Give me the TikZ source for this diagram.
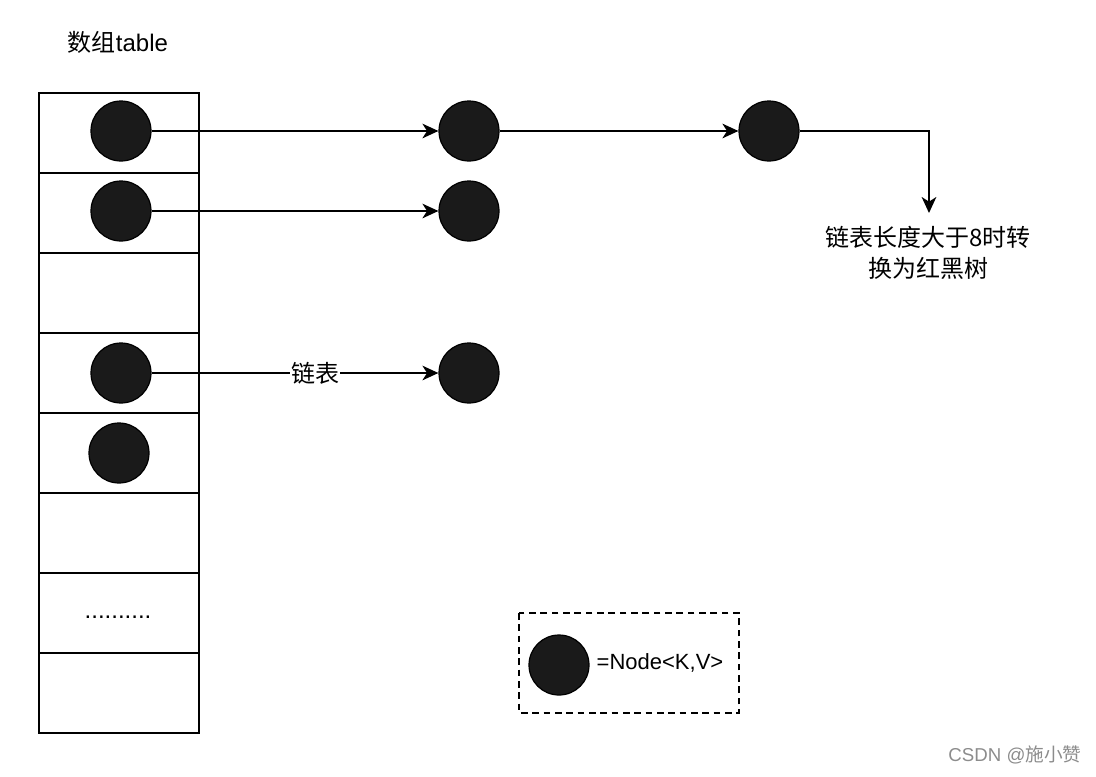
\documentclass[tikz,border=0pt]{standalone}
\usepackage{fontspec}
\setmainfont{Liberation Sans}
\newfontfamily\cjk{Noto Sans CJK SC}
\usetikzlibrary{positioning,arrows.meta}
\definecolor{nodefill}{HTML}{1A1A1A}

\begin{document}
\begin{tikzpicture}[
    x=0.75pt, y=-0.75pt,
    cell/.style={draw=black, line width=1.1pt},
    entry/.style={circle, draw=black, fill=nodefill, line width=0.9pt, minimum size=45pt, inner sep=0pt},
    link/.style={-{Stealth[length=12pt, width=11pt, inset=3.5pt]}, line width=1.2pt},
    legend/.style={draw=black, dash pattern=on 5pt off 3.5pt, line width=1.1pt},
    txt/.style={font=\fontsize{18}{23}\selectfont, align=center},
    keyfont/.style={font=\fontsize{16.5}{20}\selectfont},
    wmark/.style={font=\fontsize{14}{16}\selectfont, text=black!45},
]
\useasboundingbox (0,0) rectangle (1096,776);
\node[txt] (title) at (118,42) {{\cjk 数组}table};
\foreach \y in {93,173,...,653}
    \draw[cell] (39,\y) rectangle (199,\y+80);
\node[txt] (dots) at (118,617) {..........};
\node[entry] (t1) at (121,131) {};
\node[entry] (t2) at (121,211) {};
\node[entry] (t4) at (121,373) {};
\node[entry] (t5) at (119,453) {};
\node[entry] (a1) at (469,131) {};
\node[entry] (a2) at (769,131) {};
\node[entry] (b1) at (469,211) {};
\node[entry] (c1) at (469,373) {};
\node[txt] (note) at (928,253) {\cjk 链表长度大于8时转\\\cjk 换为红黑树};
\coordinate (turn) at (929,213);
\draw[link] (t1) -- (a1);
\draw[link] (a1) -- (a2);
\draw[link] (a2) -| (turn);
\draw[link] (t2) -- (b1);
\draw[link] (t4) -- node[pos=0.57, fill=white, txt, inner sep=1pt] (lbl) {\cjk 链表} (c1);
\draw[legend] (519,613) rectangle (739,713);
\node[entry] (key) at (559,665) {};
\node[keyfont, anchor=west] (keytxt) at (592,663) {=Node<K,V>};
\node[wmark] (wm) at (1015,755) {CSDN @{\cjk 施小赞}};
\end{tikzpicture}
\end{document}
